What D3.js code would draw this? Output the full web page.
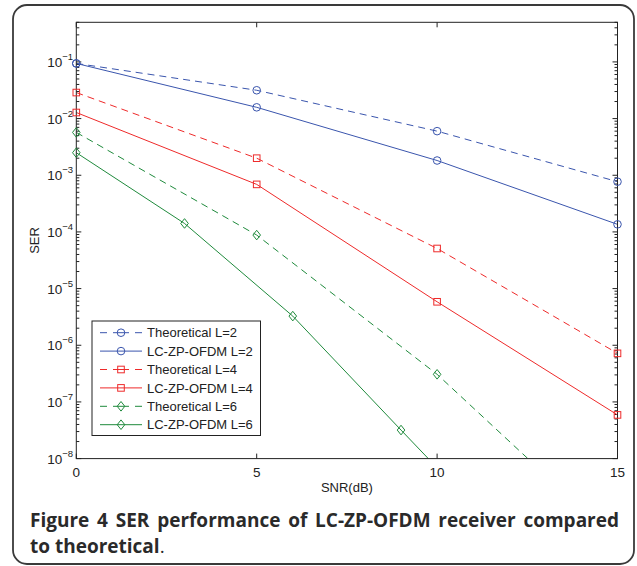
<!DOCTYPE html>
<html><head><meta charset="utf-8">
<script src="https://cdn.jsdelivr.net/npm/d3@7"></script>
<style>body{margin:0;background:#fff}svg{display:block}</style>
</head><body><svg id="c" width="637" height="566"></svg>
<script>
// ---- data ----
const xTicks = [0, 5, 10, 15];
const yTickExps = [-1, -2, -3, -4, -5, -6, -7, -8];
const theoSNR = [0, 5, 10, 15];
const theoL2 = [0.094, 0.0316, 0.0060, 7.7e-4];
const lcSNR = [0, 5, 10, 15];
const lcL2 = [0.094, 0.0158, 1.82e-3, 1.36e-4];
const theoL4 = [0.0288, 2.0e-3, 5.1e-5, 7.2e-7];
const lcL4 = [0.0128, 6.9e-4, 5.85e-6, 5.9e-8];
const theoL6 = [5.7e-3, 8.8e-5, 3.07e-7, 3.4e-10];
const lcL6SNR = [0, 3, 6, 9, 12];
const lcL6 = [2.5e-3, 1.41e-4, 3.27e-6, 3.19e-8, 3.2e-10];
const seriesNames = ["Theoretical L=2","LC-ZP-OFDM L=2","Theoretical L=4","LC-ZP-OFDM L=4","Theoretical L=6","LC-ZP-OFDM L=6"];

const blue = "#3a55ad", red = "#ee2a2a", green = "#1f8a3c";
const series = [
  {name: seriesNames[0], x: theoSNR, y: theoL2, color: blue, dash: true, marker: "circle"},
  {name: seriesNames[1], x: lcSNR, y: lcL2, color: blue, dash: false, marker: "circle"},
  {name: seriesNames[2], x: theoSNR, y: theoL4, color: red, dash: true, marker: "square"},
  {name: seriesNames[3], x: lcSNR, y: lcL4, color: red, dash: false, marker: "square"},
  {name: seriesNames[4], x: theoSNR, y: theoL6, color: green, dash: true, marker: "diamond"},
  {name: seriesNames[5], x: lcL6SNR, y: lcL6, color: green, dash: false, marker: "diamond"}
];

const svg = d3.select("#c");
const L = 76.3, R = 617.5, T = 22.3, B = 458.6;
const x = d3.scaleLinear().domain([0, 15]).range([L, R]);
const y = d3.scaleLog().domain([1e-8, 0.5]).range([B, T]);

// outer rounded border
svg.append("rect").attr("x", 13).attr("y", 5).attr("width", 621).attr("height", 559)
  .attr("rx", 14).attr("fill", "none").attr("stroke", "#3a3a3a").attr("stroke-width", 1.8);

svg.append("defs").append("clipPath").attr("id", "clip")
  .append("rect").attr("x", L).attr("y", T).attr("width", R - L).attr("height", B - T);

const axisColor = "#222";
const font = "'Liberation Sans', Arial, sans-serif";

// ticks (inward) on all four sides
const g = svg.append("g");
xTicks.forEach(v => {
  g.append("line").attr("x1", x(v)).attr("x2", x(v)).attr("y1", B).attr("y2", B - 5).attr("stroke", axisColor);
  g.append("line").attr("x1", x(v)).attr("x2", x(v)).attr("y1", T).attr("y2", T + 5).attr("stroke", axisColor);
  g.append("text").attr("x", x(v)).attr("y", B + 18).attr("text-anchor", "middle")
    .attr("font-family", font).attr("font-size", 13.5).attr("fill", "#222").text(v);
});
// log ticks
const minor = [];
for (let e = -8; e <= 0; e++) for (let m = 1; m <= 9; m++) {
  const v = m * Math.pow(10, e);
  if (v >= 1e-8 && v <= 0.5) minor.push({v, major: m === 1});
}
minor.forEach(t => {
  const len = t.major ? 5 : 3;
  g.append("line").attr("x1", L).attr("x2", L + len).attr("y1", y(t.v)).attr("y2", y(t.v)).attr("stroke", axisColor);
  g.append("line").attr("x1", R).attr("x2", R - len).attr("y1", y(t.v)).attr("y2", y(t.v)).attr("stroke", axisColor);
});
yTickExps.forEach(e => {
  const t = g.append("text").attr("x", 73).attr("y", y(Math.pow(10, e)) + 5).attr("text-anchor", "end")
    .attr("font-family", font).attr("font-size", 13.5).attr("fill", "#222");
  t.append("tspan").text("10");
  t.append("tspan").attr("dy", -7).attr("font-size", 9.5).text("\u2212" + Math.abs(e));
});

// axis labels
svg.append("text").attr("x", (L + R) / 2).attr("y", B + 33).attr("text-anchor", "middle")
  .attr("font-family", font).attr("font-size", 13).attr("fill", "#222").text("SNR(dB)");
svg.append("text").attr("transform", `translate(39,${(T + B) / 2}) rotate(-90)`).attr("text-anchor", "middle")
  .attr("font-family", font).attr("font-size", 13).attr("fill", "#222").text("SER");

// markers
function drawMarker(sel, type, cx, cy, color) {
  if (type === "circle") {
    sel.append("circle").attr("cx", cx).attr("cy", cy).attr("r", 3.8)
      .attr("fill", "none").attr("stroke", color).attr("stroke-width", 1);
  } else if (type === "square") {
    sel.append("rect").attr("x", cx - 3.3).attr("y", cy - 3.3).attr("width", 6.6).attr("height", 6.6)
      .attr("fill", "none").attr("stroke", color).attr("stroke-width", 1);
  } else {
    sel.append("path").attr("d", `M${cx},${cy - 4.8}L${cx + 3.8},${cy}L${cx},${cy + 4.8}L${cx - 3.8},${cy}Z`)
      .attr("fill", "none").attr("stroke", color).attr("stroke-width", 1);
  }
}

const plot = svg.append("g").attr("clip-path", "url(#clip)");
const line = d3.line().x(d => x(d[0])).y(d => y(d[1]));
series.forEach(s => {
  const pts = s.x.map((v, i) => [v, s.y[i]]);
  plot.append("path").attr("d", line(pts)).attr("fill", "none").attr("stroke", s.color)
    .attr("stroke-width", 1).attr("stroke-dasharray", s.dash ? "7,5" : null);
});

// axes box
svg.append("rect").attr("x", L).attr("y", T).attr("width", R - L).attr("height", B - T)
  .attr("fill", "none").attr("stroke", axisColor).attr("stroke-width", 1);

const marks = svg.append("g");
series.forEach(s => {
  s.x.forEach((v, i) => { if (s.y[i] >= 1e-8) drawMarker(marks, s.marker, x(v), y(s.y[i]), s.color); });
});

// legend
const lg = svg.append("g");
lg.append("rect").attr("x", 92).attr("y", 321).attr("width", 168.5).attr("height", 114.5)
  .attr("fill", "#fff").attr("stroke", "#222").attr("stroke-width", 1);
series.forEach((s, i) => {
  const yy = 332.7 + i * 18.4;
  lg.append("line").attr("x1", 100).attr("x2", 142).attr("y1", yy).attr("y2", yy)
    .attr("stroke", s.color).attr("stroke-width", 1).attr("stroke-dasharray", s.dash ? "7,6,16,6,7" : null);
  drawMarker(lg, s.marker, 121, yy, s.color);
  lg.append("text").attr("x", 147).attr("y", yy + 4.6).attr("font-family", font).attr("font-size", 13)
    .attr("fill", "#222").text(s.name);
});

// caption (justified first line via word spacing)
const capFont = "'Open Sans', 'Noto Sans', sans-serif";
const cap1 = "Figure 4 SER performance of LC-ZP-OFDM receiver compared";
const c1 = svg.append("text").attr("x", 30).attr("y", 527).attr("font-family", capFont)
  .attr("font-size", 19).attr("font-weight", "bold").attr("fill", "#2a2a2a").text(cap1);
const w = c1.node().getComputedTextLength();
const nSpaces = cap1.split(" ").length - 1;
if (w < 589) c1.attr("word-spacing", (589 - w) / nSpaces);
else c1.attr("textLength", 589).attr("lengthAdjust", "spacingAndGlyphs");
const c2 = svg.append("text").attr("x", 30).attr("y", 552.5).attr("font-family", capFont)
  .attr("font-size", 19).attr("fill", "#2a2a2a");
c2.append("tspan").attr("font-weight", "bold").text("to theoretical");
c2.append("tspan").text(".");
</script></body></html>
